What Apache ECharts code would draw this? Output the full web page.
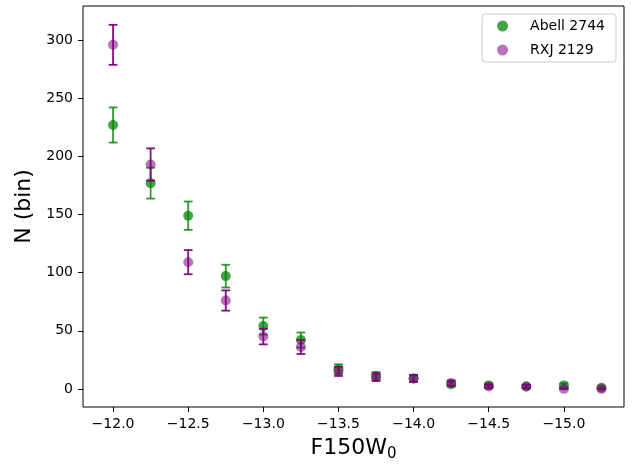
<!DOCTYPE html>
<html>
<head>
<meta charset="utf-8">
<script src="https://cdn.jsdelivr.net/npm/echarts@6/dist/echarts.min.js"></script>
<style>
  html, body { margin: 0; padding: 0; background: #fff; }
  #chart { width: 636px; height: 467px; }
</style>
</head>
<body>
<div id="chart"></div>
<script>
// Magnitude bins (F150W_0)
const mags = [-12.0, -12.25, -12.5, -12.75, -13.0, -13.25, -13.5, -13.75, -14.0, -14.25, -14.5, -14.75, -15.0, -15.25];

// Counts per bin and their uncertainties
const abellCounts = [227, 177, 149, 97, 54, 42, 17, 11, 9, 4, 3, 2, 3, 1];
const abellErrors = [15.1, 13.3, 12.2, 9.8, 7.3, 6.5, 4.1, 3.3, 3.0, 2.0, 1.7, 1.4, 1.7, 1.0];
const rxjCounts   = [296, 193, 109, 76, 45, 36, 15, 10, 9, 5, 2, 2, 0, 0];
const rxjErrors   = [17.2, 13.9, 10.4, 8.7, 6.7, 6.0, 3.9, 3.2, 3.0, 2.2, 1.4, 1.4, 0, 0];

// Tick labels
const xTicks = [-12.0, -12.5, -13.0, -13.5, -14.0, -14.5, -15.0];
const yTicks = [0, 50, 100, 150, 200, 250, 300];

const GREEN = 'rgb(0,128,0)';
const PURPLE = 'rgb(128,0,128)';

function points(counts) {
  return mags.map((m, i) => [m, counts[i]]);
}
function bars(counts, errs) {
  return mags.map((m, i) => [m, counts[i] - errs[i], counts[i] + errs[i]]);
}

// Vertical error bar with caps at both ends
function errorBarRenderer(color, opacity) {
  return function (params, api) {
    const x = api.value(0);
    const lo = api.coord([x, api.value(1)]);
    const hi = api.coord([x, api.value(2)]);
    const cap = 4.4;
    const style = { stroke: color, lineWidth: 1.8, opacity: opacity };
    return {
      type: 'group',
      children: [
        { type: 'line', shape: { x1: lo[0], y1: lo[1], x2: hi[0], y2: hi[1] }, style: style },
        { type: 'line', shape: { x1: lo[0] - cap, y1: lo[1], x2: lo[0] + cap, y2: lo[1] }, style: style },
        { type: 'line', shape: { x1: hi[0] - cap, y1: hi[1], x2: hi[0] + cap, y2: hi[1] }, style: style }
      ]
    };
  };
}

const fmt = v => (v < 0 ? '\u2212' : '') + Math.abs(v).toFixed(1);
const font = 'DejaVu Sans';

const chart = echarts.init(document.getElementById('chart'), null, { renderer: 'canvas' });
chart.setOption({
  animation: false,
  backgroundColor: '#fff',
  textStyle: { fontFamily: font },
  grid: { left: 83, right: 12, top: 6, bottom: 58, show: true, borderColor: '#000', borderWidth: 1, backgroundColor: 'transparent' },
  legend: {
    right: 20, top: 14,
    orient: 'vertical',
    data: [
      { name: 'Abell 2744', icon: 'circle', itemStyle: { color: GREEN, opacity: 0.72 } },
      { name: 'RXJ 2129', icon: 'circle', itemStyle: { color: PURPLE, opacity: 0.55 } }
    ],
    itemWidth: 11, itemHeight: 11, itemGap: 10,
    padding: [5, 11, 5, 15],
    textStyle: { fontFamily: font, fontSize: 14, color: '#000', padding: [0, 0, 0, 17] },
    backgroundColor: 'rgba(255,255,255,0.8)',
    borderColor: '#ccc', borderWidth: 1, borderRadius: 3
  },
  xAxis: {
    type: 'value',
    inverse: true,
    min: -15.4, max: -11.8,
    splitLine: { show: false },
    axisLine: { show: false, onZero: false },
    axisTick: { show: true, length: 5, lineStyle: { color: '#000' }, customValues: xTicks },
    axisLabel: { fontFamily: font, fontSize: 14, color: '#000', margin: 10, formatter: fmt, customValues: xTicks },
    name: '{a|F150W}{b|0}',
    nameLocation: 'middle',
    nameGap: 28,
    nameTextStyle: {
      rich: {
        a: { fontFamily: font, fontSize: 22, color: '#000' },
        b: { fontFamily: font, fontSize: 15, color: '#000', padding: [12, 0, 0, 0] }
      }
    }
  },
  yAxis: {
    type: 'value',
    min: -15.6, max: 329.4,
    splitLine: { show: false },
    axisLine: { show: false, onZero: false },
    axisTick: { show: true, length: 5, lineStyle: { color: '#000' }, customValues: yTicks },
    axisLabel: { fontFamily: font, fontSize: 14, color: '#000', margin: 10, customValues: yTicks },
    name: 'N (bin)',
    nameLocation: 'middle',
    nameGap: 42,
    nameTextStyle: { fontFamily: font, fontSize: 22, color: '#000' }
  },
  series: [
    {
      type: 'custom', name: 'Abell 2744 err', silent: true, z: 2,
      renderItem: errorBarRenderer(GREEN, 0.8),
      data: bars(abellCounts, abellErrors)
    },
    {
      type: 'scatter', name: 'Abell 2744', z: 3,
      symbol: 'circle', symbolSize: 10,
      itemStyle: { color: GREEN, opacity: 0.72 },
      data: points(abellCounts)
    },
    {
      type: 'custom', name: 'RXJ 2129 err', silent: true, z: 4,
      renderItem: errorBarRenderer(PURPLE, 0.95),
      data: bars(rxjCounts, rxjErrors)
    },
    {
      type: 'scatter', name: 'RXJ 2129', z: 5,
      symbol: 'circle', symbolSize: 10,
      itemStyle: { color: PURPLE, opacity: 0.55 },
      data: points(rxjCounts)
    }
  ]
});
</script>
</body>
</html>
